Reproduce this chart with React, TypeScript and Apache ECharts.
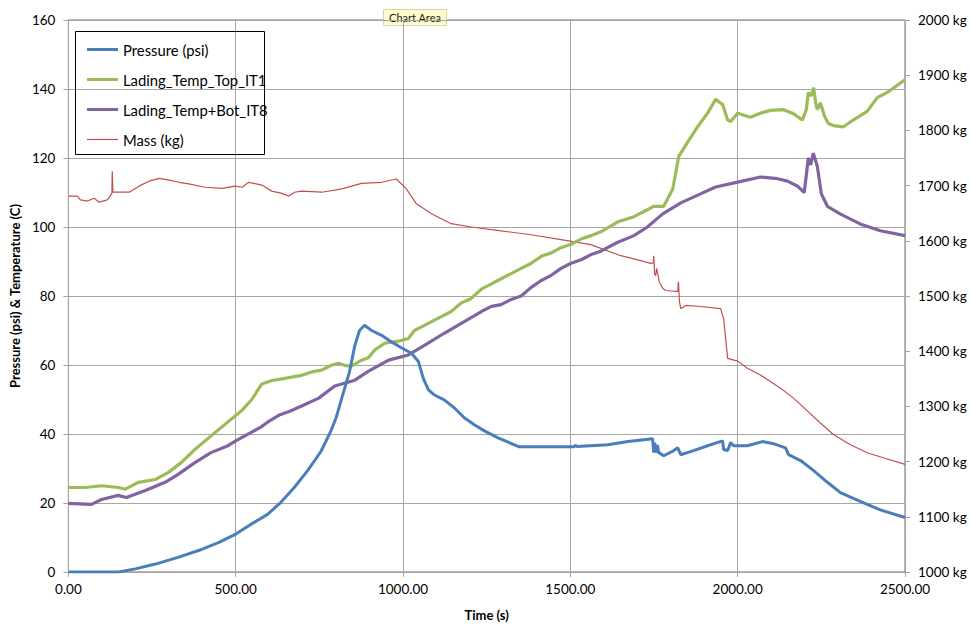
import React, { useEffect, useRef } from "react";
import * as echarts from "echarts";

const seriesNames = ["Pressure (psi)", "Lading_Temp_Top_IT1", "Lading_Temp+Bot_IT8", "Mass (kg)"];
const xTicks = [0, 500, 1000, 1500, 2000, 2500];

const pressure: [number, number][] = [
  [0, 0], [150, 0], [200, 0.9], [260, 2.3], [330, 4.3], [400, 6.6], [450, 8.6], [500, 11], [545, 13.8],
  [595, 16.7], [635, 20.2], [675, 24.5], [715, 29.4], [755, 35], [785, 41], [800, 44.7], [817, 50.4],
  [840, 58], [856, 65.7], [870, 70], [885, 71.5], [906, 70], [936, 68.6], [960, 67], [995, 65],
  [1025, 63.4], [1046, 61], [1061, 56], [1076, 52.8], [1094, 51.3], [1123, 49.9], [1153, 47.6],
  [1183, 44.7], [1213, 42.7], [1243, 40.9], [1284, 38.9], [1347, 36.3], [1510, 36.3], [1515, 36.7],
  [1520, 36.4], [1612, 36.9], [1672, 37.8], [1746, 38.6], [1749, 34.6], [1752, 37.5], [1756, 34.6],
  [1760, 36.8], [1764, 34.6], [1779, 33.7], [1809, 35.2], [1821, 36], [1830, 34], [1868, 35.2],
  [1910, 36.6], [1955, 38], [1958, 35.5], [1970, 35.2], [1979, 37.5], [1988, 36.6], [2029, 36.6],
  [2074, 37.8], [2107, 37.2], [2143, 36], [2152, 34], [2188, 32.3], [2227, 29.4], [2268, 26],
  [2307, 23], [2366, 20.5], [2426, 18], [2500, 15.8],
];

const tempTop: [number, number][] = [
  [0, 24.5], [50, 24.5], [100, 25], [150, 24.5], [170, 24], [209, 26], [259, 26.8], [298, 28.8],
  [337, 31.7], [378, 35.5], [438, 40.4], [492, 44.7], [520, 47], [548, 50], [578, 54.5], [608, 55.5],
  [638, 56], [667, 56.5], [697, 57], [727, 58], [757, 58.5], [787, 60], [807, 60.5], [830, 59.8],
  [846, 59.7], [876, 61.4], [895, 62], [915, 64.3], [945, 66.3], [986, 66.9], [1016, 67.7],
  [1034, 70], [1064, 71.5], [1094, 73], [1144, 75.5], [1174, 78], [1204, 79.3], [1234, 82],
  [1264, 83.5], [1293, 85], [1323, 86.5], [1353, 88], [1383, 89.5], [1413, 91.5], [1443, 92.5],
  [1472, 94], [1502, 95], [1532, 96.5], [1562, 97.5], [1591, 98.6], [1642, 101.5], [1690, 103],
  [1720, 104.5], [1749, 106], [1779, 106], [1806, 111], [1824, 120.5], [1850, 124.5], [1880, 129],
  [1910, 133], [1934, 137], [1955, 135.5], [1970, 131], [1979, 130.6], [2000, 133], [2038, 131.8],
  [2068, 133], [2098, 133.8], [2137, 134], [2164, 133], [2193, 131], [2205, 134], [2211, 139],
  [2220, 138], [2227, 140.4], [2233, 136], [2238, 134], [2247, 136], [2260, 132], [2271, 130],
  [2286, 129.4], [2315, 129], [2345, 131], [2387, 133.5], [2417, 137.5], [2447, 139], [2476, 141],
  [2500, 142.7],
];

const tempBot: [number, number][] = [
  [0, 19.9], [69, 19.6], [99, 21], [149, 22.2], [173, 21.6], [230, 23.6], [289, 26], [328, 28.3],
  [378, 31.7], [426, 34.6], [477, 36.6], [500, 38], [545, 40.4], [575, 42], [596, 43.5], [630, 45.5],
  [660, 46.5], [697, 48.1], [748, 50.4], [796, 53.9], [856, 55.6], [897, 58.2], [957, 61.4],
  [1016, 62.9], [1064, 65.7], [1123, 69.2], [1183, 72.6], [1234, 75.5], [1264, 77], [1293, 77.5],
  [1323, 79], [1353, 80], [1383, 82.5], [1413, 84.5], [1443, 86], [1472, 88], [1502, 89.5],
  [1532, 90.5], [1562, 92], [1591, 93], [1640, 95.5], [1690, 97.5], [1730, 100], [1776, 103.8],
  [1830, 107], [1889, 109.6], [1934, 111.6], [2000, 113], [2068, 114.5], [2119, 114], [2149, 113.3],
  [2178, 111.9], [2199, 110], [2211, 120], [2218, 118], [2226, 121.4], [2238, 117.6], [2250, 109.6],
  [2268, 106], [2306, 103.8], [2366, 100.9], [2426, 98.9], [2500, 97.5],
];

const mass: [number, number][] = [
  [0, 1681], [27, 1681], [36, 1674], [57, 1672], [77, 1677], [92, 1670], [116, 1674], [125, 1681],
  [130, 1686], [131, 1726], [133, 1688], [152, 1688], [182, 1688], [211, 1699], [241, 1708],
  [271, 1713], [301, 1710], [331, 1706], [360, 1703], [408, 1697], [459, 1695], [498, 1699],
  [519, 1697], [539, 1706], [578, 1701], [608, 1690], [638, 1686], [659, 1681], [676, 1688],
  [697, 1690], [757, 1688], [817, 1694], [876, 1704], [936, 1706], [980, 1712], [1010, 1694],
  [1040, 1667], [1085, 1649], [1144, 1631], [1204, 1625], [1293, 1618], [1383, 1611], [1472, 1602],
  [1561, 1593], [1651, 1573], [1710, 1564], [1740, 1559], [1748, 1560], [1749, 1573], [1752, 1540],
  [1755, 1537], [1758, 1550], [1766, 1525], [1776, 1514], [1785, 1510], [1821, 1508], [1823, 1526],
  [1826, 1490], [1830, 1477], [1845, 1483], [1889, 1481], [1949, 1477], [1958, 1459], [1964, 1423],
  [1970, 1387], [2000, 1382], [2029, 1369], [2068, 1357], [2128, 1333], [2167, 1315], [2208, 1292],
  [2247, 1270], [2286, 1249], [2336, 1231], [2387, 1216], [2435, 1207], [2500, 1195],
];

const colors = ["#4A7EBB", "#9BBB59", "#8064A2", "#C0504D"];
const FONT = "Lato, 'Open Sans', sans-serif";

export default function App() {
  const ref = useRef<HTMLDivElement>(null);
  useEffect(() => {
    if (!ref.current) return;
    const chart = echarts.init(ref.current, null, { renderer: "svg" });
    const gridColor = "#a6a6a6";
    chart.setOption({
      animation: false,
      backgroundColor: "#ffffff",
      textStyle: { fontFamily: FONT },
      grid: { left: 66, right: 65, top: 20, bottom: 51, show: true, borderColor: "#6a6a6a", borderWidth: 1 },
      legend: {
        left: 82,
        top: 36,
        orient: "vertical",
        itemWidth: 31,
        itemHeight: 3,
        itemGap: 13,
        itemStyle: { borderWidth: 0 },
        textStyle: { fontFamily: FONT, fontSize: 14.8, color: "#000", lineHeight: 17 },
        data: [
          { name: seriesNames[0], icon: "rect" },
          { name: seriesNames[1], icon: "rect" },
          { name: seriesNames[2], icon: "rect" },
          { name: seriesNames[3], icon: "path://M0,0M0,0.9L31,0.9L31,2.1L0,2.1ZM31,3" },
        ],
      },
      xAxis: {
        type: "value",
        min: xTicks[0],
        max: xTicks[xTicks.length - 1],
        interval: 500,
        name: "Time (s)",
        nameLocation: "middle",
        nameGap: 36,
        nameTextStyle: { fontFamily: FONT, fontSize: 13, fontWeight: "bold", color: "#000" },
        axisLine: { lineStyle: { color: gridColor } },
        axisTick: { show: true, length: 5, lineStyle: { color: gridColor } },
        axisLabel: { fontFamily: FONT, fontSize: 13.5, color: "#000", margin: 10, formatter: (v: number) => v.toFixed(2) },
        splitLine: { show: true, lineStyle: { color: gridColor, width: 1 } },
      },
      yAxis: [
        {
          type: "value",
          min: 0,
          max: 160,
          interval: 20,
          name: "Pressure (psi) & Temperature (C)",
          nameLocation: "middle",
          nameGap: 41,
          nameTextStyle: { fontFamily: FONT, fontSize: 13, fontWeight: "bold", color: "#000" },
          axisLine: { show: true, lineStyle: { color: gridColor } },
          axisTick: { show: true, length: 5, lineStyle: { color: gridColor } },
          axisLabel: { fontFamily: FONT, fontSize: 13.5, color: "#000", margin: 13 },
          splitLine: { show: true, lineStyle: { color: gridColor, width: 1 } },
        },
        {
          type: "value",
          min: 1000,
          max: 2000,
          interval: 100,
          position: "right",
          axisLine: { show: true, lineStyle: { color: gridColor } },
          axisTick: { show: true, length: 5, lineStyle: { color: gridColor } },
          axisLabel: { fontFamily: FONT, fontSize: 13.5, color: "#000", margin: 13, formatter: (v: number) => String(v) + " kg" },
          splitLine: { show: false },
        },
      ],
      series: [
        { name: seriesNames[0], type: "line", data: pressure, showSymbol: false, symbol: "none", color: colors[0], lineStyle: { width: 3, color: colors[0] }, z: 4 },
        { name: seriesNames[1], type: "line", data: tempTop, showSymbol: false, symbol: "none", color: colors[1], lineStyle: { width: 3.2, color: colors[1] }, z: 3 },
        { name: seriesNames[2], type: "line", data: tempBot, showSymbol: false, symbol: "none", color: colors[2], lineStyle: { width: 3.2, color: colors[2] }, z: 3 },
        { name: seriesNames[3], type: "line", yAxisIndex: 1, data: mass, showSymbol: false, symbol: "none", color: colors[3], lineStyle: { width: 1.2, color: colors[3] }, z: 2 },
      ],
      graphic: [
        {
          type: "rect",
          shape: { x: 75.5, y: 31.5, width: 189, height: 123 },
          style: { fill: "rgba(255,255,255,0)", stroke: "#000", lineWidth: 1 },
          z: 10,
          silent: true,
        },
        {
          type: "group",
          z: 20,
          children: [
            {
              type: "rect",
              shape: { x: 383.5, y: 9.5, width: 63, height: 16 },
              style: { fill: "#fdfccb", stroke: "#d8d6a8", lineWidth: 1 },
            },
            {
              type: "text",
              x: 415,
              y: 17.5,
              style: { text: "Chart Area", fontFamily: FONT, fontSize: 11, fill: "#222", align: "center", verticalAlign: "middle" },
            },
          ],
        },
      ],
    });
    return () => chart.dispose();
  }, []);
  return <div ref={ref} style={{ position: "fixed", left: 0, top: 0, width: 970, height: 626, background: "#fff" }} />;
}
